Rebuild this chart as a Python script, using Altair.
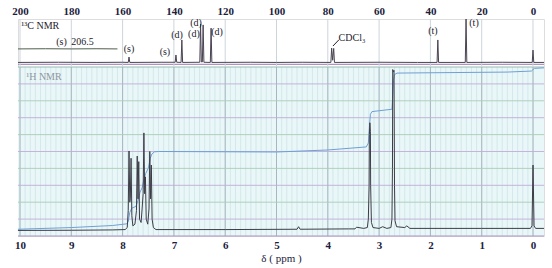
import altair as alt
import pandas as pd

# ---------------- data ----------------
# 1H spectrum trace (ppm, intensity in grid units, 0..10 = 1H panel)
h_ppm = [10.04, 9.0, 8.2, 7.95, 7.91, 7.89, 7.875, 7.86, 7.85, 7.835, 7.82, 7.80, 7.76, 7.73,
         7.715, 7.70, 7.685, 7.67, 7.64, 7.62, 7.60, 7.585, 7.57, 7.555, 7.54, 7.51, 7.485,
         7.47, 7.455, 7.44, 7.425, 7.40, 7.35, 6.0, 4.6, 4.57, 4.54, 3.6, 3.47, 3.44, 3.3,
         3.23, 3.21, 3.195, 3.19, 3.18, 3.17, 3.165, 3.15, 3.12, 3.0, 2.93, 2.85, 2.77, 2.75,
         2.74, 2.735, 2.72, 2.71, 2.70, 2.69, 2.66, 2.5, 2.46, 2.40, 1.0, 0.05, 0.02, 0.0,
         -0.02, -0.05, -0.214]
h_int = [0.33, 0.34, 0.36, 0.38, 0.5, 1.5, 5.03, 2.0, 2.2, 4.6, 1.2, 0.6, 0.7, 1.5,
         4.73, 2.2, 4.4, 1.0, 0.8, 1.6, 2.5, 6.1, 2.5, 3.5, 1.0, 0.7, 1.6,
         5.0, 2.2, 4.2, 1.0, 0.5, 0.38, 0.38, 0.4, 0.55, 0.4, 0.42, 0.42, 0.52, 0.45,
         0.5, 1.0, 3.0, 6.0, 6.7, 6.2, 3.0, 0.8, 0.5, 0.45, 0.55, 0.45, 0.5, 1.0,
         4.0, 9.85, 9.7, 9.8, 3.0, 0.9, 0.55, 0.5, 0.6, 0.45, 0.45, 0.45, 0.6, 4.2,
         0.6, 0.45, 0.45]

# 1H integral curve
i_ppm = [10.04, 9.0, 8.2, 7.92, 7.89, 7.86, 7.82, 7.74, 7.70, 7.66, 7.62, 7.58, 7.55, 7.50,
         7.46, 7.43, 7.38, 7.30, 5.0, 4.0, 3.25, 3.21, 3.19, 3.17, 3.14, 2.75, 2.74, 2.72,
         2.70, 2.65, 0.5, 0.03, 0.0, -0.03, -0.214]
i_val = [0.40, 0.50, 0.62, 0.72, 0.85, 1.4, 1.65, 1.75, 2.1, 2.6, 2.85, 3.4, 3.7, 4.0,
         4.6, 4.85, 4.98, 5.0, 4.97, 5.09, 5.27, 5.5, 6.4, 7.2, 7.36, 7.5, 8.0, 9.2,
         9.55, 9.64, 9.7, 9.76, 9.85, 9.92, 9.95]

# 13C spectrum trace (ppm, intensity in same grid units, panel above 10)
c_ppm = [200.78, 185, 170, 160, 157.8, 157.5, 157.2, 145, 139.5, 139.2, 138.9, 137.2, 136.9,
         136.6, 129.9, 129.6, 129.3, 128.9, 128.6, 128.3, 125.8, 125.5, 125.2, 110, 100,
         90, 78.8, 78.5, 78.1, 77.7, 77.4, 60, 45, 37.4, 37.1, 36.8, 26.4, 26.1, 25.8, 12,
         0.3, 0.0, -0.3, -4.29]
c_int = [10.27, 10.28, 10.27, 10.28, 10.27, 10.59, 10.27, 10.28, 10.28, 10.71, 10.28, 10.27, 11.6,
         10.27, 10.28, 12.54, 10.3, 10.3, 12.49, 10.28, 10.27, 12.3, 10.27, 10.28, 10.27,
         10.28, 10.27, 11.12, 10.4, 11.1, 10.27, 10.28, 10.27, 10.27, 11.6, 10.27, 10.27, 12.84, 10.27, 10.28,
         10.27, 11.0, 10.27, 10.27]

# inset trace (206.5 ppm region)
ins_ppm = [200.78, 190, 180, 170, 162]
ins_int = [11.07, 11.08, 11.07, 11.08, 11.07]

# 13C labels
c_title = ["¹³C NMR"]
c_title_ppm = [199.5]
c_title_int = [12.43]
c_lab_text = ["(s)", "206.5", "(s)", "(s)", "(d)", "(d)", "(d)", "(d)", "(t)", "(t)"]
c_lab_ppm = [183.8, 175.6, 157.5, 143.5, 138.8, 131.4, 132.2, 123.2, 39.0, 23.0]
c_lab_int = [11.48, 11.48, 11.07, 10.89, 11.89, 12.6, 11.95, 12.07, 12.13, 12.6]
cdcl3_text = ["CDCl₃"]
cdcl3_ppm = [75.8]
cdcl3_int = [11.72]
lead_ppm = [78.0, 75.6]
lead_int = [11.24, 11.62]

h_ticks = [10, 9, 8, 7, 6, 5, 4, 3, 2, 1, 0]
c_ticks = [200, 180, 160, 140, 120, 100, 80, 60, 40, 20, 0]
minor_ppm = [round(x * 0.1, 1) for x in range(0, 101)]
hgrid_vals = [1, 2, 3, 4, 5, 6, 7, 8, 9]
hgrid_col = ["p", "g", "p", "g", "p", "g", "p", "g", "p"]

H_DOM = [10.039, -0.214]
C_DOM = [200.78, -4.29]
Y_DOM = [0, 12.84]
FONT = "Liberation Serif"

# ---------------- charts ----------------
def hx(field="ppm", axis=None):
    return alt.X(f"{field}:Q", scale=alt.Scale(domain=H_DOM, nice=False, zero=False), axis=axis)

def cx(field="ppm", axis=None):
    return alt.X(f"{field}:Q", scale=alt.Scale(domain=C_DOM, nice=False, zero=False), axis=axis)

def yy(field="v"):
    return alt.Y(f"{field}:Q", scale=alt.Scale(domain=Y_DOM, nice=False, zero=False), axis=None)

bg = alt.Chart(pd.DataFrame({"ppm": [H_DOM[0]], "ppm2": [H_DOM[1]], "v": [0], "v2": [10]})).mark_rect(
    color="#e9f7f8").encode(x=hx(), x2="ppm2:Q", y=yy(), y2="v2:Q")

minor = alt.Chart(pd.DataFrame({"ppm": minor_ppm, "v": 0, "v2": 10})).mark_rule(
    color="#cfe3e7", strokeWidth=0.8).encode(x=hx(), y=yy(), y2="v2:Q")

major_h = alt.Chart(pd.DataFrame({"ppm": h_ticks, "v": 0, "v2": 10})).mark_rule(
    color="#a6b7bf", strokeWidth=1).encode(x=hx(), y=yy(), y2="v2:Q")

major_c = alt.Chart(pd.DataFrame({"ppm": c_ticks, "v": 10, "v2": 12.84})).mark_rule(
    color="#cdd5dc", strokeWidth=1).encode(x=cx(), y=yy(), y2="v2:Q")

hgrid = alt.Chart(pd.DataFrame({"v": hgrid_vals, "c": hgrid_col})).mark_rule(strokeWidth=0.9).encode(
    y=yy(),
    color=alt.Color("c:N", scale=alt.Scale(domain=["p", "g"], range=["#c0aed6", "#aacdb6"]), legend=None))

borders = alt.Chart(pd.DataFrame({"v": [0, 10, 10.15], "c": ["p", "g", "p"]})).mark_rule(strokeWidth=1.2).encode(
    y=yy(),
    color=alt.Color("c:N", scale=alt.Scale(domain=["p", "g"], range=["#ad94c4", "#98bcb0"]), legend=None))

integral = alt.Chart(pd.DataFrame({"ppm": i_ppm, "v": i_val})).mark_line(
    color="#6f9fd6", strokeWidth=1).encode(x=hx(), y=yy())

spec_h = alt.Chart(pd.DataFrame({"ppm": h_ppm, "v": h_int})).mark_line(
    color="#3d3d48", strokeWidth=1).encode(
    x=hx(axis=alt.Axis(values=h_ticks, orient="bottom", labelFont=FONT, labelFontSize=11,
                       labelFontWeight="bold", labelColor="#1c1c3c", ticks=False, domain=False,
                       grid=False, labelPadding=3, title="δ ( ppm )", titleFont=FONT,
                       titleFontSize=11, titleFontWeight="normal", titleColor="#1c1c3c",
                       titlePadding=2, format="d")),
    y=yy())

h_label = alt.Chart(pd.DataFrame({"ppm": [9.88], "v": [9.41], "t": ["¹H NMR"]})).mark_text(
    align="left", baseline="middle", font=FONT, fontSize=10, color="#8e96a0").encode(
    x=hx(), y=yy(), text="t:N")

spec_c = alt.Chart(pd.DataFrame({"ppm": c_ppm, "v": c_int})).mark_line(
    color="#4a4452", strokeWidth=1).encode(
    x=cx(axis=alt.Axis(values=c_ticks, orient="top", labelFont=FONT, labelFontSize=11,
                       labelFontWeight="bold", labelColor="#1c1c3c", ticks=False, domain=False,
                       grid=False, labelPadding=3, title=None, format="d")),
    y=yy())

inset = alt.Chart(pd.DataFrame({"ppm": ins_ppm, "v": ins_int})).mark_line(
    color="#4f5f4c", strokeWidth=1).encode(x=cx(), y=yy())

c_title_layer = alt.Chart(pd.DataFrame({"ppm": c_title_ppm, "v": c_title_int, "t": c_title})).mark_text(
    align="left", baseline="middle", font=FONT, fontSize=10, color="#1c1c2c").encode(
    x=cx(), y=yy(), text="t:N")

c_labels = alt.Chart(pd.DataFrame({"ppm": c_lab_ppm, "v": c_lab_int, "t": c_lab_text})).mark_text(
    align="center", baseline="middle", font=FONT, fontSize=10, color="#1c1c2c").encode(
    x=cx(), y=yy(), text="t:N")

cdcl3 = alt.Chart(pd.DataFrame({"ppm": cdcl3_ppm, "v": cdcl3_int, "t": cdcl3_text})).mark_text(
    align="left", baseline="middle", font=FONT, fontSize=10, color="#1c1c2c").encode(
    x=cx(), y=yy(), text="t:N")

lead = alt.Chart(pd.DataFrame({"ppm": lead_ppm, "v": lead_int})).mark_line(
    color="#1c1c2c", strokeWidth=1).encode(x=cx(), y=yy())

chart = alt.layer(
    bg, minor, major_h, hgrid, borders, major_c, integral, spec_h, h_label,
    spec_c, inset, c_title_layer, c_labels, cdcl3, lead
).resolve_scale(x="independent", color="independent").properties(
    width=526, height=217,
    autosize=alt.AutoSizeParams(type="none"),
    padding={"left": 18, "top": 19, "right": 8, "bottom": 32},
).configure_view(stroke="#8f9eaa", strokeWidth=1).configure(background="white")

chart.save("out.html", embed_options={"renderer": "svg", "actions": False})
